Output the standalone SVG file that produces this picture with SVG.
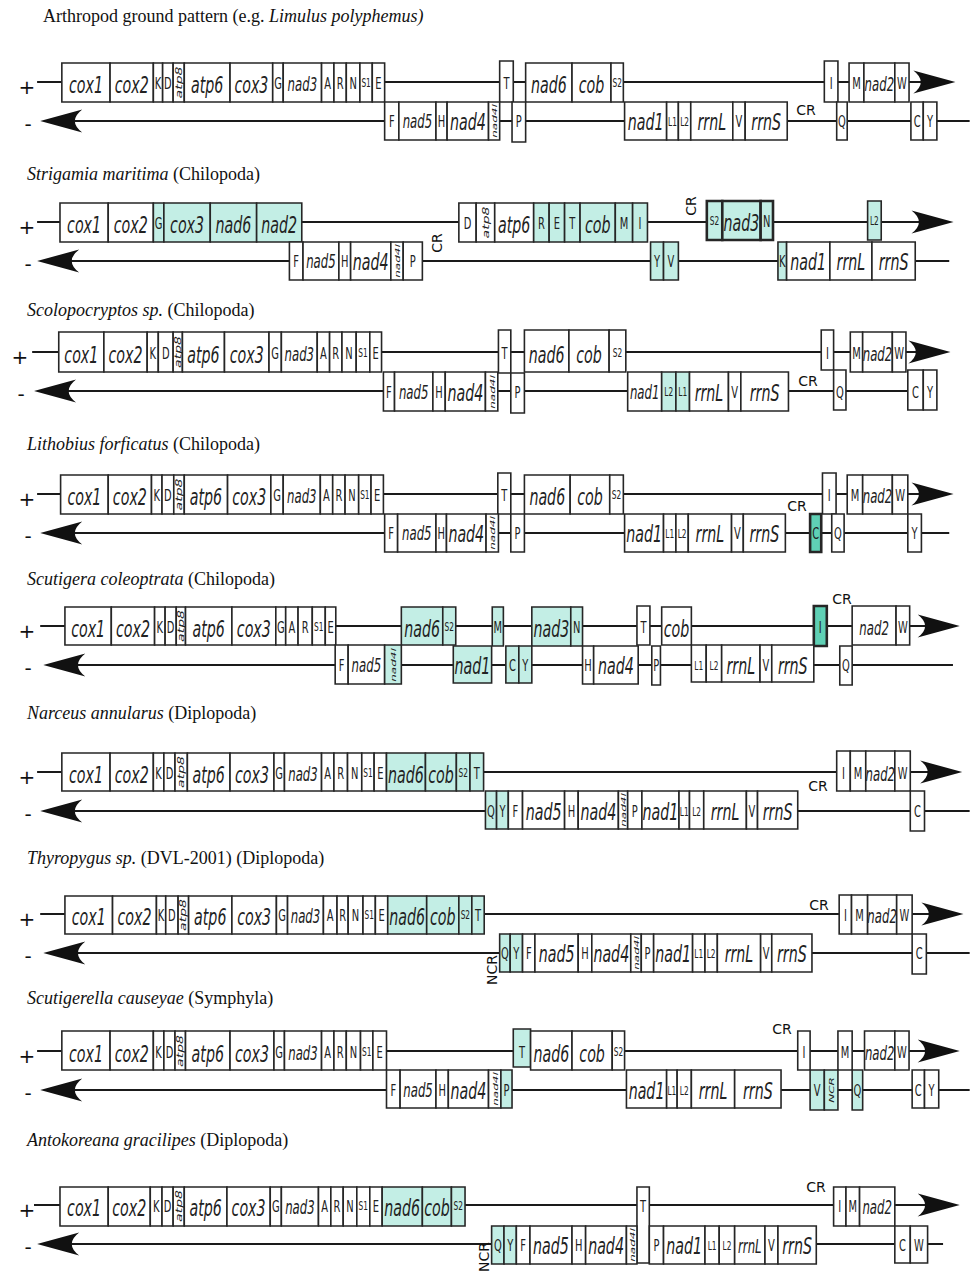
<svg xmlns="http://www.w3.org/2000/svg" xmlns:xlink="http://www.w3.org/1999/xlink" width="970" height="1276" viewBox="0 0 970 1276">
<defs>
<style>
.bx{fill:#fff;stroke:#262626;stroke-width:1.6px;vector-effect:non-scaling-stroke}
.tl{fill:#c3eee5}
.td{fill:#5fd0b5;stroke-width:2.6px}
.bd{stroke-width:2.6px}
.ln{fill:none;stroke:#1a1a1a;stroke-width:2px;vector-effect:non-scaling-stroke}
.ah{fill:#111}
.g,.gs,.t,.ts,.r,.rs{font-family:"DejaVu Sans","Noto Sans",sans-serif;fill:#222;text-anchor:middle}
.g{font-size:23px;font-style:italic}
.gs{font-size:19px;font-style:italic}
.t{font-size:16px}
.ts{font-size:12px}
.r{font-size:14px;font-style:italic}
.rs{font-size:12px;font-style:italic}
.ti{font-family:"Liberation Serif","Times New Roman",serif;font-size:18px;fill:#111}
.cr{font-family:"DejaVu Sans",sans-serif;font-size:14px;fill:#111;text-anchor:middle}
.sg{font-family:"DejaVu Sans",sans-serif;font-size:20px;fill:#111;text-anchor:middle}
</style>
<path id="arR" class="ah" d="M0,0 L-68,-11.5 Q-44,0 -68,11.5 Z"/>
<path id="arL" class="ah" d="M0,0 L68,-11.5 Q44,0 68,11.5 Z"/>
</defs>
<rect width="970" height="1276" fill="#fff"/>

<!-- Panel 1 -->
<g id="panel1" transform="translate(0,82)">
<text class="ti" x="43" y="-60">Arthropod ground pattern (e.g. <tspan font-style="italic">Limulus polyphemus)</tspan></text>
<text class="sg" x="27" y="12">+</text><text class="sg" x="28" y="49">-</text>
<g transform="scale(0.6184,1)">
<g id="p1-strands"><path class="ln" d="M60,0H1500M120,39H1568"/><use xlink:href="#arR" x="1545" y="0"/><use xlink:href="#arL" x="65" y="39"/></g>
<g id="p1-cox1"><rect class="bx" x="100" y="-19" width="78" height="39"/><text class="g" x="139" y="11">cox1</text></g>
<g id="p1-cox2"><rect class="bx" x="178" y="-19" width="70" height="39"/><text class="g" x="213" y="11">cox2</text></g>
<g id="p1-K"><rect class="bx" x="248" y="-19" width="15" height="39"/><text class="t" x="255.5" y="7">K</text></g>
<g id="p1-D"><rect class="bx" x="263" y="-19" width="17" height="39"/><text class="t" x="271.5" y="7">D</text></g>
<g id="p1-atp8"><rect class="bx" x="280" y="-19" width="18" height="39"/><text class="r" transform="translate(289,0.5) rotate(-90)" y="5">atp8</text></g>
<g id="p1-atp6"><rect class="bx" x="298" y="-19" width="74" height="39"/><text class="g" x="335" y="11">atp6</text></g>
<g id="p1-cox3"><rect class="bx" x="372" y="-19" width="69" height="39"/><text class="g" x="406.5" y="11">cox3</text></g>
<g id="p1-G"><rect class="bx" x="441" y="-19" width="17" height="39"/><text class="t" x="449.5" y="7">G</text></g>
<g id="p1-nad3"><rect class="bx" x="458" y="-19" width="62" height="39"/><text class="gs" x="489" y="9">nad3</text></g>
<g id="p1-A"><rect class="bx" x="520" y="-19" width="20" height="39"/><text class="t" x="530" y="7">A</text></g>
<g id="p1-R"><rect class="bx" x="540" y="-19" width="20" height="39"/><text class="t" x="550" y="7">R</text></g>
<g id="p1-N"><rect class="bx" x="560" y="-19" width="22" height="39"/><text class="t" x="571" y="7">N</text></g>
<g id="p1-S1"><rect class="bx" x="582" y="-19" width="20" height="39"/><text class="ts" x="592" y="5">S1</text></g>
<g id="p1-E"><rect class="bx" x="602" y="-19" width="20" height="39"/><text class="t" x="612" y="7">E</text></g>
<g id="p1-T"><rect class="bx" x="808" y="-21" width="22" height="41"/><text class="t" x="819" y="7">T</text></g>
<g id="p1-nad6"><rect class="bx" x="850" y="-19" width="75" height="39"/><text class="g" x="887.5" y="11">nad6</text></g>
<g id="p1-cob"><rect class="bx" x="925" y="-19" width="63" height="39"/><text class="g" x="956.5" y="11">cob</text></g>
<g id="p1-S2"><rect class="bx" x="988" y="-19" width="20" height="39"/><text class="ts" x="998" y="5">S2</text></g>
<g id="p1-I"><rect class="bx" x="1333" y="-21" width="22" height="41"/><text class="t" x="1344" y="7">I</text></g>
<g id="p1-M"><rect class="bx" x="1373" y="-19" width="24" height="39"/><text class="t" x="1385" y="7">M</text></g>
<g id="p1-nad2"><rect class="bx" x="1397" y="-19" width="50" height="39"/><text class="gs" x="1422" y="9">nad2</text></g>
<g id="p1-W"><rect class="bx" x="1447" y="-19" width="23" height="39"/><text class="t" x="1458.5" y="7">W</text></g>
<g id="p1-F"><rect class="bx" x="622" y="20" width="23" height="38"/><text class="t" x="633.5" y="45">F</text></g>
<g id="p1-nad5"><rect class="bx" x="645" y="20" width="60" height="38"/><text class="gs" x="675" y="46">nad5</text></g>
<g id="p1-H"><rect class="bx" x="705" y="20" width="18" height="38"/><text class="t" x="714" y="45">H</text></g>
<g id="p1-nad4"><rect class="bx" x="723" y="20" width="67" height="38"/><text class="g" x="756.5" y="48">nad4</text></g>
<g id="p1-nad4l"><rect class="bx" x="790" y="20" width="18" height="38"/><text class="rs" transform="translate(799,39) rotate(-90)" y="5">nad4l</text></g>
<g id="p1-P"><rect class="bx" x="828" y="20" width="22" height="40"/><text class="t" x="839" y="45">P</text></g>
<g id="p1-nad1"><rect class="bx" x="1010" y="20" width="68" height="38"/><text class="g" x="1044" y="48">nad1</text></g>
<g id="p1-L1"><rect class="bx" x="1078" y="20" width="19" height="38"/><text class="ts" x="1087.5" y="44">L1</text></g>
<g id="p1-L2"><rect class="bx" x="1097" y="20" width="20" height="38"/><text class="ts" x="1107" y="44">L2</text></g>
<g id="p1-rrnL"><rect class="bx" x="1117" y="20" width="68" height="38"/><text class="g" x="1151" y="48">rrnL</text></g>
<g id="p1-V"><rect class="bx" x="1185" y="20" width="20" height="38"/><text class="t" x="1195" y="45">V</text></g>
<g id="p1-rrnS"><rect class="bx" x="1205" y="20" width="68" height="38"/><text class="g" x="1239" y="48">rrnS</text></g>
<g id="p1-Q"><rect class="bx" x="1353" y="20" width="17" height="38"/><text class="t" x="1361.5" y="45">Q</text></g>
<g id="p1-C"><rect class="bx" x="1473" y="20" width="20" height="38"/><text class="t" x="1483" y="45">C</text></g>
<g id="p1-Y"><rect class="bx" x="1493" y="20" width="22" height="38"/><text class="t" x="1504" y="45">Y</text></g>
</g>
<text class="cr" x="806" y="33">CR</text>
</g>

<!-- Panel 2 -->
<g id="panel2" transform="translate(0,222)">
<text class="ti" x="27" y="-42"><tspan font-style="italic">Strigamia maritima</tspan> (Chilopoda)</text>
<text class="sg" x="27" y="12">+</text><text class="sg" x="28" y="49">-</text>
<g transform="scale(0.6184,1)">
<g id="p2-strands"><path class="ln" d="M60,0H1500M115,39H1535"/><use xlink:href="#arR" x="1542" y="0"/><use xlink:href="#arL" x="60" y="39"/></g>
<g id="p2-cox1"><rect class="bx" x="97" y="-19" width="78" height="39"/><text class="g" x="136" y="11">cox1</text></g>
<g id="p2-cox2"><rect class="bx" x="175" y="-19" width="73" height="39"/><text class="g" x="211.5" y="11">cox2</text></g>
<g id="p2-G"><rect class="bx tl" x="248" y="-19" width="17" height="39"/><text class="t" x="256.5" y="7">G</text></g>
<g id="p2-cox3"><rect class="bx tl" x="265" y="-19" width="75" height="39"/><text class="g" x="302.5" y="11">cox3</text></g>
<g id="p2-nad6"><rect class="bx tl" x="340" y="-19" width="75" height="39"/><text class="g" x="377.5" y="11">nad6</text></g>
<g id="p2-nad2"><rect class="bx tl" x="415" y="-19" width="73" height="39"/><text class="g" x="451.5" y="11">nad2</text></g>
<g id="p2-D"><rect class="bx" x="742" y="-19" width="28" height="39"/><text class="t" x="756" y="7">D</text></g>
<g id="p2-atp8"><rect class="bx" x="770" y="-19" width="30" height="39"/><text class="r" transform="translate(785,0.5) rotate(-90)" y="5">atp8</text></g>
<g id="p2-atp6"><rect class="bx" x="800" y="-19" width="63" height="39"/><text class="g" x="831.5" y="11">atp6</text></g>
<g id="p2-R"><rect class="bx tl" x="863" y="-19" width="25" height="39"/><text class="t" x="875.5" y="7">R</text></g>
<g id="p2-E"><rect class="bx tl" x="888" y="-19" width="25" height="39"/><text class="t" x="900.5" y="7">E</text></g>
<g id="p2-T"><rect class="bx tl" x="913" y="-19" width="25" height="39"/><text class="t" x="925.5" y="7">T</text></g>
<g id="p2-cob"><rect class="bx tl" x="938" y="-19" width="57" height="39"/><text class="g" x="966.5" y="11">cob</text></g>
<g id="p2-M"><rect class="bx tl" x="995" y="-19" width="28" height="39"/><text class="t" x="1009" y="7">M</text></g>
<g id="p2-I"><rect class="bx tl" x="1023" y="-19" width="24" height="39"/><text class="t" x="1035" y="7">I</text></g>
<g id="p2-S2"><rect class="bx tl bd" x="1143" y="-21" width="25" height="39"/><text class="ts" x="1155.5" y="3">S2</text></g>
<g id="p2-nad3"><rect class="bx tl bd" x="1168" y="-21" width="62" height="39"/><text class="g" x="1199" y="9">nad3</text></g>
<g id="p2-N"><rect class="bx tl bd" x="1230" y="-21" width="20" height="39"/><text class="t" x="1240" y="5">N</text></g>
<g id="p2-L2"><rect class="bx tl" x="1403" y="-21" width="22" height="39"/><text class="ts" x="1414" y="3">L2</text></g>
<g id="p2-F"><rect class="bx" x="468" y="20" width="22" height="38"/><text class="t" x="479" y="45">F</text></g>
<g id="p2-nad5"><rect class="bx" x="490" y="20" width="58" height="38"/><text class="gs" x="519" y="46">nad5</text></g>
<g id="p2-H"><rect class="bx" x="548" y="20" width="19" height="38"/><text class="t" x="557.5" y="45">H</text></g>
<g id="p2-nad4"><rect class="bx" x="567" y="20" width="65" height="38"/><text class="g" x="599.5" y="48">nad4</text></g>
<g id="p2-nad4l"><rect class="bx" x="632" y="20" width="20" height="38"/><text class="rs" transform="translate(642,39) rotate(-90)" y="5">nad4l</text></g>
<g id="p2-P"><rect class="bx" x="652" y="20" width="31" height="38"/><text class="t" x="667.5" y="45">P</text></g>
<g id="p2-Y"><rect class="bx tl" x="1052" y="20" width="21" height="38"/><text class="t" x="1062.5" y="45">Y</text></g>
<g id="p2-V"><rect class="bx tl" x="1073" y="20" width="24" height="38"/><text class="t" x="1085" y="45">V</text></g>
<g id="p2-K"><rect class="bx tl" x="1258" y="20" width="14" height="38"/><text class="t" x="1265" y="45">K</text></g>
<g id="p2-nad1"><rect class="bx" x="1272" y="20" width="70" height="38"/><text class="g" x="1307" y="48">nad1</text></g>
<g id="p2-rrnL"><rect class="bx" x="1342" y="20" width="68" height="38"/><text class="g" x="1376" y="48">rrnL</text></g>
<g id="p2-rrnS"><rect class="bx" x="1410" y="20" width="70" height="38"/><text class="g" x="1445" y="48">rrnS</text></g>
</g>
<text class="cr" transform="translate(691,-16) rotate(-90)" y="5">CR</text>
<text class="cr" transform="translate(437,21) rotate(-90)" y="5">CR</text>
</g>

<!-- Panel 3 -->
<g id="panel3" transform="translate(0,352)">
<text class="ti" x="27" y="-36"><tspan font-style="italic">Scolopocryptos sp.</tspan> (Chilopoda)</text>
<text class="sg" x="20" y="12">+</text><text class="sg" x="21" y="49">-</text>
<g transform="scale(0.6184,1)">
<g id="p3-strands"><path class="ln" d="M52,0H1490M110,39H1515"/><use xlink:href="#arR" x="1537" y="0"/><use xlink:href="#arL" x="55" y="39"/></g>
<g id="p3-cox1"><rect class="bx" x="95" y="-20" width="73" height="40"/><text class="g" x="131.5" y="11">cox1</text></g>
<g id="p3-cox2"><rect class="bx" x="168" y="-20" width="70" height="40"/><text class="g" x="203" y="11">cox2</text></g>
<g id="p3-K"><rect class="bx" x="238" y="-20" width="18" height="40"/><text class="t" x="247" y="7">K</text></g>
<g id="p3-D"><rect class="bx" x="256" y="-20" width="24" height="40"/><text class="t" x="268" y="7">D</text></g>
<g id="p3-atp8"><rect class="bx" x="280" y="-20" width="15" height="40"/><text class="r" transform="translate(287.5,0) rotate(-90)" y="5">atp8</text></g>
<g id="p3-atp6"><rect class="bx" x="295" y="-20" width="68" height="40"/><text class="g" x="329" y="11">atp6</text></g>
<g id="p3-cox3"><rect class="bx" x="363" y="-20" width="72" height="40"/><text class="g" x="399" y="11">cox3</text></g>
<g id="p3-G"><rect class="bx" x="435" y="-20" width="20" height="40"/><text class="t" x="445" y="7">G</text></g>
<g id="p3-nad3"><rect class="bx" x="455" y="-20" width="58" height="40"/><text class="gs" x="484" y="9">nad3</text></g>
<g id="p3-A"><rect class="bx" x="513" y="-20" width="20" height="40"/><text class="t" x="523" y="7">A</text></g>
<g id="p3-R"><rect class="bx" x="533" y="-20" width="20" height="40"/><text class="t" x="543" y="7">R</text></g>
<g id="p3-N"><rect class="bx" x="553" y="-20" width="23" height="40"/><text class="t" x="564.5" y="7">N</text></g>
<g id="p3-S1"><rect class="bx" x="576" y="-20" width="22" height="40"/><text class="ts" x="587" y="5">S1</text></g>
<g id="p3-E"><rect class="bx" x="598" y="-20" width="19" height="40"/><text class="t" x="607.5" y="7">E</text></g>
<g id="p3-T"><rect class="bx" x="806" y="-22" width="20" height="43"/><text class="t" x="816" y="7">T</text></g>
<g id="p3-nad6"><rect class="bx" x="848" y="-22" width="72" height="42"/><text class="g" x="884" y="11">nad6</text></g>
<g id="p3-cob"><rect class="bx" x="920" y="-22" width="65" height="42"/><text class="g" x="952.5" y="11">cob</text></g>
<g id="p3-S2"><rect class="bx" x="985" y="-22" width="27" height="42"/><text class="ts" x="998.5" y="5">S2</text></g>
<g id="p3-I"><rect class="bx" x="1328" y="-22" width="20" height="40"/><text class="t" x="1338" y="7">I</text></g>
<g id="p3-M"><rect class="bx" x="1375" y="-20" width="20" height="40"/><text class="t" x="1385" y="7">M</text></g>
<g id="p3-nad2"><rect class="bx" x="1395" y="-20" width="48" height="40"/><text class="gs" x="1419" y="9">nad2</text></g>
<g id="p3-W"><rect class="bx" x="1443" y="-20" width="22" height="40"/><text class="t" x="1454" y="7">W</text></g>
<g id="p3-F"><rect class="bx" x="620" y="20" width="18" height="39"/><text class="t" x="629" y="46">F</text></g>
<g id="p3-nad5"><rect class="bx" x="638" y="20" width="62" height="39"/><text class="gs" x="669" y="47">nad5</text></g>
<g id="p3-H"><rect class="bx" x="700" y="20" width="20" height="39"/><text class="t" x="710" y="46">H</text></g>
<g id="p3-nad4"><rect class="bx" x="720" y="20" width="65" height="39"/><text class="g" x="752.5" y="49">nad4</text></g>
<g id="p3-nad4l"><rect class="bx" x="785" y="20" width="20" height="39"/><text class="rs" transform="translate(795,40) rotate(-90)" y="5">nad4l</text></g>
<g id="p3-P"><rect class="bx" x="826" y="21" width="22" height="40"/><text class="t" x="837" y="46">P</text></g>
<g id="p3-nad1"><rect class="bx" x="1015" y="20" width="55" height="39"/><text class="gs" x="1042.5" y="47">nad1</text></g>
<g id="p3-L2"><rect class="bx tl" x="1070" y="20" width="23" height="39"/><text class="ts" x="1081.5" y="44">L2</text></g>
<g id="p3-L1"><rect class="bx tl" x="1093" y="20" width="22" height="39"/><text class="ts" x="1104" y="44">L1</text></g>
<g id="p3-rrnL"><rect class="bx" x="1115" y="20" width="63" height="39"/><text class="g" x="1146.5" y="49">rrnL</text></g>
<g id="p3-V"><rect class="bx" x="1178" y="20" width="20" height="39"/><text class="t" x="1188" y="46">V</text></g>
<g id="p3-rrnS"><rect class="bx" x="1198" y="20" width="77" height="39"/><text class="g" x="1236.5" y="49">rrnS</text></g>
<g id="p3-Q"><rect class="bx" x="1348" y="18" width="20" height="40"/><text class="t" x="1358" y="46">Q</text></g>
<g id="p3-C"><rect class="bx" x="1468" y="18" width="25" height="40"/><text class="t" x="1480.5" y="46">C</text></g>
<g id="p3-Y"><rect class="bx" x="1493" y="18" width="22" height="40"/><text class="t" x="1504" y="46">Y</text></g>
</g>
<text class="cr" x="808" y="34">CR</text>
</g>

<!-- Panel 4 -->
<g id="panel4" transform="translate(0,494)">
<text class="ti" x="27" y="-44"><tspan font-style="italic">Lithobius forficatus</tspan> (Chilopoda)</text>
<text class="sg" x="27" y="12">+</text><text class="sg" x="28" y="49">-</text>
<g transform="scale(0.6184,1)">
<g id="p4-strands"><path class="ln" d="M60,0H1500M120,39H1535"/><use xlink:href="#arR" x="1542" y="0"/><use xlink:href="#arL" x="65" y="39"/></g>
<g id="p4-cox1"><rect class="bx" x="98" y="-19" width="77" height="39"/><text class="g" x="136.5" y="11">cox1</text></g>
<g id="p4-cox2"><rect class="bx" x="175" y="-19" width="70" height="39"/><text class="g" x="210" y="11">cox2</text></g>
<g id="p4-K"><rect class="bx" x="245" y="-19" width="17" height="39"/><text class="t" x="253.5" y="7">K</text></g>
<g id="p4-D"><rect class="bx" x="262" y="-19" width="19" height="39"/><text class="t" x="271.5" y="7">D</text></g>
<g id="p4-atp8"><rect class="bx" x="281" y="-19" width="17" height="39"/><text class="r" transform="translate(289.5,0.5) rotate(-90)" y="5">atp8</text></g>
<g id="p4-atp6"><rect class="bx" x="298" y="-19" width="70" height="39"/><text class="g" x="333" y="11">atp6</text></g>
<g id="p4-cox3"><rect class="bx" x="368" y="-19" width="70" height="39"/><text class="g" x="403" y="11">cox3</text></g>
<g id="p4-G"><rect class="bx" x="438" y="-19" width="20" height="39"/><text class="t" x="448" y="7">G</text></g>
<g id="p4-nad3"><rect class="bx" x="458" y="-19" width="60" height="39"/><text class="gs" x="488" y="9">nad3</text></g>
<g id="p4-A"><rect class="bx" x="518" y="-19" width="20" height="39"/><text class="t" x="528" y="7">A</text></g>
<g id="p4-R"><rect class="bx" x="538" y="-19" width="20" height="39"/><text class="t" x="548" y="7">R</text></g>
<g id="p4-N"><rect class="bx" x="558" y="-19" width="22" height="39"/><text class="t" x="569" y="7">N</text></g>
<g id="p4-S1"><rect class="bx" x="580" y="-19" width="20" height="39"/><text class="ts" x="590" y="5">S1</text></g>
<g id="p4-E"><rect class="bx" x="600" y="-19" width="20" height="39"/><text class="t" x="610" y="7">E</text></g>
<g id="p4-T"><rect class="bx" x="805" y="-21" width="21" height="41"/><text class="t" x="815.5" y="7">T</text></g>
<g id="p4-nad6"><rect class="bx" x="848" y="-19" width="74" height="39"/><text class="g" x="885" y="11">nad6</text></g>
<g id="p4-cob"><rect class="bx" x="922" y="-19" width="64" height="39"/><text class="g" x="954" y="11">cob</text></g>
<g id="p4-S2"><rect class="bx" x="986" y="-19" width="22" height="39"/><text class="ts" x="997" y="5">S2</text></g>
<g id="p4-I"><rect class="bx" x="1330" y="-21" width="22" height="41"/><text class="t" x="1341" y="7">I</text></g>
<g id="p4-M"><rect class="bx" x="1370" y="-19" width="25" height="39"/><text class="t" x="1382.5" y="7">M</text></g>
<g id="p4-nad2"><rect class="bx" x="1395" y="-19" width="48" height="39"/><text class="gs" x="1419" y="9">nad2</text></g>
<g id="p4-W"><rect class="bx" x="1443" y="-19" width="25" height="39"/><text class="t" x="1455.5" y="7">W</text></g>
<g id="p4-F"><rect class="bx" x="622" y="20" width="21" height="38"/><text class="t" x="632.5" y="45">F</text></g>
<g id="p4-nad5"><rect class="bx" x="643" y="20" width="62" height="38"/><text class="gs" x="674" y="46">nad5</text></g>
<g id="p4-H"><rect class="bx" x="705" y="20" width="17" height="38"/><text class="t" x="713.5" y="45">H</text></g>
<g id="p4-nad4"><rect class="bx" x="722" y="20" width="64" height="38"/><text class="g" x="754" y="48">nad4</text></g>
<g id="p4-nad4l"><rect class="bx" x="786" y="20" width="20" height="38"/><text class="rs" transform="translate(796,39) rotate(-90)" y="5">nad4l</text></g>
<g id="p4-P"><rect class="bx" x="826" y="20" width="22" height="38"/><text class="t" x="837" y="45">P</text></g>
<g id="p4-nad1"><rect class="bx" x="1010" y="20" width="63" height="38"/><text class="g" x="1041.5" y="48">nad1</text></g>
<g id="p4-L1"><rect class="bx" x="1073" y="20" width="20" height="38"/><text class="ts" x="1083" y="44">L1</text></g>
<g id="p4-L2"><rect class="bx" x="1093" y="20" width="20" height="38"/><text class="ts" x="1103" y="44">L2</text></g>
<g id="p4-rrnL"><rect class="bx" x="1113" y="20" width="70" height="38"/><text class="g" x="1148" y="48">rrnL</text></g>
<g id="p4-V"><rect class="bx" x="1183" y="20" width="19" height="38"/><text class="t" x="1192.5" y="45">V</text></g>
<g id="p4-rrnS"><rect class="bx" x="1202" y="20" width="68" height="38"/><text class="g" x="1236" y="48">rrnS</text></g>
<g id="p4-C"><rect class="bx td" x="1310" y="20" width="18" height="38"/><text class="t" x="1319" y="45">C</text></g>
<g id="p4-Q"><rect class="bx" x="1345" y="20" width="20" height="38"/><text class="t" x="1355" y="45">Q</text></g>
<g id="p4-Y"><rect class="bx" x="1468" y="20" width="22" height="38"/><text class="t" x="1479" y="45">Y</text></g>
</g>
<text class="cr" x="797" y="17">CR</text>
</g>

<!-- Panel 5 -->
<g id="panel5" transform="translate(0,626)">
<text class="ti" x="27" y="-41"><tspan font-style="italic">Scutigera coleoptrata</tspan> (Chilopoda)</text>
<text class="sg" x="27" y="12">+</text><text class="sg" x="28" y="49">-</text>
<g transform="scale(0.6184,1)">
<g id="p5-strands"><path class="ln" d="M65,0H1505M125,39H1541"/><use xlink:href="#arR" x="1552" y="0"/><use xlink:href="#arL" x="70" y="39"/></g>
<g id="p5-cox1"><rect class="bx" x="105" y="-19" width="75" height="38"/><text class="g" x="142.5" y="11">cox1</text></g>
<g id="p5-cox2"><rect class="bx" x="180" y="-19" width="70" height="38"/><text class="g" x="215" y="11">cox2</text></g>
<g id="p5-K"><rect class="bx" x="250" y="-19" width="17" height="38"/><text class="t" x="258.5" y="7">K</text></g>
<g id="p5-D"><rect class="bx" x="267" y="-19" width="18" height="38"/><text class="t" x="276" y="7">D</text></g>
<g id="p5-atp8"><rect class="bx" x="285" y="-19" width="15" height="38"/><text class="r" transform="translate(292.5,0) rotate(-90)" y="5">atp8</text></g>
<g id="p5-atp6"><rect class="bx" x="300" y="-19" width="75" height="38"/><text class="g" x="337.5" y="11">atp6</text></g>
<g id="p5-cox3"><rect class="bx" x="375" y="-19" width="71" height="38"/><text class="g" x="410.5" y="11">cox3</text></g>
<g id="p5-G"><rect class="bx" x="446" y="-19" width="16" height="38"/><text class="t" x="454" y="7">G</text></g>
<g id="p5-A"><rect class="bx" x="462" y="-19" width="20" height="38"/><text class="t" x="472" y="7">A</text></g>
<g id="p5-R"><rect class="bx" x="482" y="-19" width="23" height="38"/><text class="t" x="493.5" y="7">R</text></g>
<g id="p5-S1"><rect class="bx" x="505" y="-19" width="21" height="38"/><text class="ts" x="515.5" y="5">S1</text></g>
<g id="p5-E"><rect class="bx" x="526" y="-19" width="17" height="38"/><text class="t" x="534.5" y="7">E</text></g>
<g id="p5-nad6"><rect class="bx tl" x="649" y="-19" width="67" height="38"/><text class="g" x="682.5" y="11">nad6</text></g>
<g id="p5-S2"><rect class="bx tl" x="716" y="-19" width="21" height="38"/><text class="ts" x="726.5" y="5">S2</text></g>
<g id="p5-M"><rect class="bx tl" x="796" y="-19" width="18" height="39"/><text class="t" x="805" y="7">M</text></g>
<g id="p5-nad3"><rect class="bx tl" x="860" y="-19" width="63" height="39"/><text class="g" x="891.5" y="11">nad3</text></g>
<g id="p5-N"><rect class="bx tl" x="923" y="-19" width="19" height="39"/><text class="t" x="932.5" y="7">N</text></g>
<g id="p5-T"><rect class="bx" x="1030" y="-20" width="21" height="39"/><text class="t" x="1040.5" y="7">T</text></g>
<g id="p5-cob"><rect class="bx" x="1070" y="-19" width="48" height="38"/><text class="g" x="1094" y="11">cob</text></g>
<g id="p5-I"><rect class="bx td" x="1316" y="-20" width="21" height="40"/><text class="t" x="1326.5" y="7">I</text></g>
<g id="p5-nad2"><rect class="bx" x="1378" y="-20" width="71" height="39"/><text class="gs" x="1413.5" y="9">nad2</text></g>
<g id="p5-W"><rect class="bx" x="1449" y="-20" width="22" height="39"/><text class="t" x="1460" y="7">W</text></g>
<g id="p5-F"><rect class="bx" x="542" y="19" width="21" height="39"/><text class="t" x="552.5" y="45">F</text></g>
<g id="p5-nad5"><rect class="bx" x="563" y="19" width="59" height="39"/><text class="gs" x="592.5" y="46">nad5</text></g>
<g id="p5-nad4l"><rect class="bx tl" x="622" y="19" width="27" height="39"/><text class="rs" transform="translate(635.5,39) rotate(-90)" y="5">nad4l</text></g>
<g id="p5-nad1"><rect class="bx tl" x="733" y="20" width="62" height="37"/><text class="g" x="764" y="48">nad1</text></g>
<g id="p5-C"><rect class="bx tl" x="818" y="20" width="21" height="37"/><text class="t" x="828.5" y="45">C</text></g>
<g id="p5-Y"><rect class="bx tl" x="839" y="20" width="21" height="37"/><text class="t" x="849.5" y="45">Y</text></g>
<g id="p5-H"><rect class="bx" x="942" y="20" width="18" height="38"/><text class="t" x="951" y="45">H</text></g>
<g id="p5-nad4"><rect class="bx" x="960" y="20" width="72" height="38"/><text class="g" x="996" y="48">nad4</text></g>
<g id="p5-P"><rect class="bx" x="1054" y="20" width="14" height="39"/><text class="t" x="1061" y="45">P</text></g>
<g id="p5-L1"><rect class="bx" x="1118" y="19" width="24" height="37"/><text class="ts" x="1130" y="44">L1</text></g>
<g id="p5-L2"><rect class="bx" x="1142" y="19" width="25" height="37"/><text class="ts" x="1154.5" y="44">L2</text></g>
<g id="p5-rrnL"><rect class="bx" x="1167" y="19" width="62" height="37"/><text class="g" x="1198" y="48">rrnL</text></g>
<g id="p5-V"><rect class="bx" x="1229" y="19" width="19" height="37"/><text class="t" x="1238.5" y="45">V</text></g>
<g id="p5-rrnS"><rect class="bx" x="1248" y="19" width="68" height="37"/><text class="g" x="1282" y="48">rrnS</text></g>
<g id="p5-Q"><rect class="bx" x="1358" y="20" width="20" height="39"/><text class="t" x="1368" y="45">Q</text></g>
</g>
<text class="cr" x="842" y="-22">CR</text>
</g>

<!-- Panel 6 -->
<g id="panel6" transform="translate(0,772)">
<text class="ti" x="27" y="-53"><tspan font-style="italic">Narceus annularus</tspan> (Diplopoda)</text>
<text class="sg" x="27" y="12">+</text><text class="sg" x="28" y="49">-</text>
<g transform="scale(0.6184,1)">
<g id="p6-strands"><path class="ln" d="M60,0H1505M120,39H1568"/><use xlink:href="#arR" x="1556" y="0"/><use xlink:href="#arL" x="65" y="39"/></g>
<g id="p6-cox1"><rect class="bx" x="100" y="-19" width="78" height="38"/><text class="g" x="139" y="11">cox1</text></g>
<g id="p6-cox2"><rect class="bx" x="178" y="-19" width="70" height="38"/><text class="g" x="213" y="11">cox2</text></g>
<g id="p6-K"><rect class="bx" x="248" y="-19" width="17" height="38"/><text class="t" x="256.5" y="7">K</text></g>
<g id="p6-D"><rect class="bx" x="265" y="-19" width="18" height="38"/><text class="t" x="274" y="7">D</text></g>
<g id="p6-atp8"><rect class="bx" x="283" y="-19" width="20" height="38"/><text class="r" transform="translate(293,0) rotate(-90)" y="5">atp8</text></g>
<g id="p6-atp6"><rect class="bx" x="303" y="-19" width="69" height="38"/><text class="g" x="337.5" y="11">atp6</text></g>
<g id="p6-cox3"><rect class="bx" x="372" y="-19" width="71" height="38"/><text class="g" x="407.5" y="11">cox3</text></g>
<g id="p6-G"><rect class="bx" x="443" y="-19" width="17" height="38"/><text class="t" x="451.5" y="7">G</text></g>
<g id="p6-nad3"><rect class="bx" x="460" y="-19" width="60" height="38"/><text class="gs" x="490" y="9">nad3</text></g>
<g id="p6-A"><rect class="bx" x="520" y="-19" width="20" height="38"/><text class="t" x="530" y="7">A</text></g>
<g id="p6-R"><rect class="bx" x="540" y="-19" width="22" height="38"/><text class="t" x="551" y="7">R</text></g>
<g id="p6-N"><rect class="bx" x="562" y="-19" width="23" height="38"/><text class="t" x="573.5" y="7">N</text></g>
<g id="p6-S1"><rect class="bx" x="585" y="-19" width="20" height="38"/><text class="ts" x="595" y="5">S1</text></g>
<g id="p6-E"><rect class="bx" x="605" y="-19" width="20" height="38"/><text class="t" x="615" y="7">E</text></g>
<g id="p6-nad6"><rect class="bx tl" x="625" y="-19" width="63" height="38"/><text class="g" x="656.5" y="11">nad6</text></g>
<g id="p6-cob"><rect class="bx tl" x="688" y="-19" width="50" height="38"/><text class="g" x="713" y="11">cob</text></g>
<g id="p6-S2"><rect class="bx tl" x="738" y="-19" width="22" height="38"/><text class="ts" x="749" y="5">S2</text></g>
<g id="p6-T"><rect class="bx tl" x="760" y="-19" width="22" height="38"/><text class="t" x="771" y="7">T</text></g>
<g id="p6-I"><rect class="bx" x="1353" y="-21" width="22" height="40"/><text class="t" x="1364" y="7">I</text></g>
<g id="p6-M"><rect class="bx" x="1375" y="-21" width="25" height="40"/><text class="t" x="1387.5" y="7">M</text></g>
<g id="p6-nad2"><rect class="bx" x="1400" y="-21" width="47" height="40"/><text class="gs" x="1423.5" y="9">nad2</text></g>
<g id="p6-W"><rect class="bx" x="1447" y="-21" width="25" height="40"/><text class="t" x="1459.5" y="7">W</text></g>
<g id="p6-Q"><rect class="bx tl" x="785" y="19" width="18" height="38"/><text class="t" x="794" y="45">Q</text></g>
<g id="p6-Y"><rect class="bx tl" x="803" y="19" width="19" height="38"/><text class="t" x="812.5" y="45">Y</text></g>
<g id="p6-F"><rect class="bx" x="822" y="19" width="23" height="38"/><text class="t" x="833.5" y="45">F</text></g>
<g id="p6-nad5"><rect class="bx" x="845" y="19" width="68" height="38"/><text class="g" x="879" y="48">nad5</text></g>
<g id="p6-H"><rect class="bx" x="913" y="19" width="22" height="38"/><text class="t" x="924" y="45">H</text></g>
<g id="p6-nad4"><rect class="bx" x="935" y="19" width="65" height="38"/><text class="g" x="967.5" y="48">nad4</text></g>
<g id="p6-nad4l"><rect class="bx" x="1000" y="19" width="15" height="38"/><text class="rs" transform="translate(1007.5,38) rotate(-90)" y="5">nad4l</text></g>
<g id="p6-P"><rect class="bx" x="1015" y="19" width="23" height="38"/><text class="t" x="1026.5" y="45">P</text></g>
<g id="p6-nad1"><rect class="bx" x="1038" y="19" width="60" height="38"/><text class="g" x="1068" y="48">nad1</text></g>
<g id="p6-L1"><rect class="bx" x="1098" y="19" width="17" height="38"/><text class="ts" x="1106.5" y="44">L1</text></g>
<g id="p6-L2"><rect class="bx" x="1115" y="19" width="23" height="38"/><text class="ts" x="1126.5" y="44">L2</text></g>
<g id="p6-rrnL"><rect class="bx" x="1138" y="19" width="69" height="38"/><text class="g" x="1172.5" y="48">rrnL</text></g>
<g id="p6-V"><rect class="bx" x="1207" y="19" width="18" height="38"/><text class="t" x="1216" y="45">V</text></g>
<g id="p6-rrnS"><rect class="bx" x="1225" y="19" width="65" height="38"/><text class="g" x="1257.5" y="48">rrnS</text></g>
<g id="p6-C"><rect class="bx" x="1472" y="19" width="23" height="40"/><text class="t" x="1483.5" y="45">C</text></g>
</g>
<text class="cr" x="818" y="19">CR</text>
</g>

<!-- Panel 7 -->
<g id="panel7" transform="translate(0,914)">
<text class="ti" x="27" y="-50"><tspan font-style="italic">Thyropygus sp.</tspan> (DVL-2001) (Diplopoda)</text>
<text class="sg" x="27" y="12">+</text><text class="sg" x="28" y="49">-</text>
<g transform="scale(0.6184,1)">
<g id="p7-strands"><path class="ln" d="M65,0H1505M125,39H1568"/><use xlink:href="#arR" x="1558" y="0"/><use xlink:href="#arL" x="70" y="39"/></g>
<g id="p7-cox1"><rect class="bx" x="105" y="-18" width="77" height="38"/><text class="g" x="143.5" y="11">cox1</text></g>
<g id="p7-cox2"><rect class="bx" x="182" y="-18" width="71" height="38"/><text class="g" x="217.5" y="11">cox2</text></g>
<g id="p7-K"><rect class="bx" x="253" y="-18" width="15" height="38"/><text class="t" x="260.5" y="7">K</text></g>
<g id="p7-D"><rect class="bx" x="268" y="-18" width="20" height="38"/><text class="t" x="278" y="7">D</text></g>
<g id="p7-atp8"><rect class="bx" x="288" y="-18" width="17" height="38"/><text class="r" transform="translate(296.5,1) rotate(-90)" y="5">atp8</text></g>
<g id="p7-atp6"><rect class="bx" x="305" y="-18" width="70" height="38"/><text class="g" x="340" y="11">atp6</text></g>
<g id="p7-cox3"><rect class="bx" x="375" y="-18" width="72" height="38"/><text class="g" x="411" y="11">cox3</text></g>
<g id="p7-G"><rect class="bx" x="447" y="-18" width="18" height="38"/><text class="t" x="456" y="7">G</text></g>
<g id="p7-nad3"><rect class="bx" x="465" y="-18" width="58" height="38"/><text class="gs" x="494" y="9">nad3</text></g>
<g id="p7-A"><rect class="bx" x="523" y="-18" width="22" height="38"/><text class="t" x="534" y="7">A</text></g>
<g id="p7-R"><rect class="bx" x="545" y="-18" width="18" height="38"/><text class="t" x="554" y="7">R</text></g>
<g id="p7-N"><rect class="bx" x="563" y="-18" width="24" height="38"/><text class="t" x="575" y="7">N</text></g>
<g id="p7-S1"><rect class="bx" x="587" y="-18" width="20" height="38"/><text class="ts" x="597" y="5">S1</text></g>
<g id="p7-E"><rect class="bx" x="607" y="-18" width="20" height="38"/><text class="t" x="617" y="7">E</text></g>
<g id="p7-nad6"><rect class="bx tl" x="627" y="-18" width="63" height="38"/><text class="g" x="658.5" y="11">nad6</text></g>
<g id="p7-cob"><rect class="bx tl" x="690" y="-18" width="52" height="38"/><text class="g" x="716" y="11">cob</text></g>
<g id="p7-S2"><rect class="bx tl" x="742" y="-18" width="21" height="38"/><text class="ts" x="752.5" y="5">S2</text></g>
<g id="p7-T"><rect class="bx tl" x="763" y="-18" width="20" height="38"/><text class="t" x="773" y="7">T</text></g>
<g id="p7-I"><rect class="bx" x="1357" y="-19" width="20" height="39"/><text class="t" x="1367" y="7">I</text></g>
<g id="p7-M"><rect class="bx" x="1377" y="-19" width="26" height="39"/><text class="t" x="1390" y="7">M</text></g>
<g id="p7-nad2"><rect class="bx" x="1403" y="-19" width="47" height="39"/><text class="gs" x="1426.5" y="9">nad2</text></g>
<g id="p7-W"><rect class="bx" x="1450" y="-19" width="25" height="39"/><text class="t" x="1462.5" y="7">W</text></g>
<g id="p7-Q"><rect class="bx tl" x="808" y="20" width="17" height="38"/><text class="t" x="816.5" y="45">Q</text></g>
<g id="p7-Y"><rect class="bx tl" x="825" y="20" width="20" height="38"/><text class="t" x="835" y="45">Y</text></g>
<g id="p7-F"><rect class="bx" x="845" y="20" width="20" height="38"/><text class="t" x="855" y="45">F</text></g>
<g id="p7-nad5"><rect class="bx" x="865" y="20" width="70" height="38"/><text class="g" x="900" y="48">nad5</text></g>
<g id="p7-H"><rect class="bx" x="935" y="20" width="22" height="38"/><text class="t" x="946" y="45">H</text></g>
<g id="p7-nad4"><rect class="bx" x="957" y="20" width="63" height="38"/><text class="g" x="988.5" y="48">nad4</text></g>
<g id="p7-nad4l"><rect class="bx" x="1020" y="20" width="17" height="38"/><text class="rs" transform="translate(1028.5,39) rotate(-90)" y="5">nad4l</text></g>
<g id="p7-P"><rect class="bx" x="1037" y="20" width="20" height="38"/><text class="t" x="1047" y="45">P</text></g>
<g id="p7-nad1"><rect class="bx" x="1057" y="20" width="63" height="38"/><text class="g" x="1088.5" y="48">nad1</text></g>
<g id="p7-L1"><rect class="bx" x="1120" y="20" width="20" height="38"/><text class="ts" x="1130" y="44">L1</text></g>
<g id="p7-L2"><rect class="bx" x="1140" y="20" width="20" height="38"/><text class="ts" x="1150" y="44">L2</text></g>
<g id="p7-rrnL"><rect class="bx" x="1160" y="20" width="70" height="38"/><text class="g" x="1195" y="48">rrnL</text></g>
<g id="p7-V"><rect class="bx" x="1230" y="20" width="18" height="38"/><text class="t" x="1239" y="45">V</text></g>
<g id="p7-rrnS"><rect class="bx" x="1248" y="20" width="65" height="38"/><text class="g" x="1280.5" y="48">rrnS</text></g>
<g id="p7-C"><rect class="bx" x="1475" y="20" width="23" height="40"/><text class="t" x="1486.5" y="45">C</text></g>
</g>
<text class="cr" x="819" y="-4">CR</text>
<text class="cr" transform="translate(492,56) rotate(-90)" y="5">NCR</text>
</g>

<!-- Panel 8 -->
<g id="panel8" transform="translate(0,1051)">
<text class="ti" x="27" y="-47"><tspan font-style="italic">Scutigerella causeyae</tspan> (Symphyla)</text>
<text class="sg" x="27" y="12">+</text><text class="sg" x="28" y="49">-</text>
<g transform="scale(0.6184,1)">
<g id="p8-strands"><path class="ln" d="M60,0H1500M120,39H1568"/><use xlink:href="#arR" x="1552" y="0"/><use xlink:href="#arL" x="65" y="39"/></g>
<g id="p8-cox1"><rect class="bx" x="100" y="-20" width="78" height="39"/><text class="g" x="139" y="11">cox1</text></g>
<g id="p8-cox2"><rect class="bx" x="178" y="-20" width="70" height="39"/><text class="g" x="213" y="11">cox2</text></g>
<g id="p8-K"><rect class="bx" x="248" y="-20" width="17" height="39"/><text class="t" x="256.5" y="7">K</text></g>
<g id="p8-D"><rect class="bx" x="265" y="-20" width="18" height="39"/><text class="t" x="274" y="7">D</text></g>
<g id="p8-atp8"><rect class="bx" x="283" y="-20" width="17" height="39"/><text class="r" transform="translate(291.5,0) rotate(-90)" y="5">atp8</text></g>
<g id="p8-atp6"><rect class="bx" x="300" y="-20" width="72" height="39"/><text class="g" x="336" y="11">atp6</text></g>
<g id="p8-cox3"><rect class="bx" x="372" y="-20" width="71" height="39"/><text class="g" x="407.5" y="11">cox3</text></g>
<g id="p8-G"><rect class="bx" x="443" y="-20" width="17" height="39"/><text class="t" x="451.5" y="7">G</text></g>
<g id="p8-nad3"><rect class="bx" x="460" y="-20" width="60" height="39"/><text class="gs" x="490" y="9">nad3</text></g>
<g id="p8-A"><rect class="bx" x="520" y="-20" width="20" height="39"/><text class="t" x="530" y="7">A</text></g>
<g id="p8-R"><rect class="bx" x="540" y="-20" width="20" height="39"/><text class="t" x="550" y="7">R</text></g>
<g id="p8-N"><rect class="bx" x="560" y="-20" width="23" height="39"/><text class="t" x="571.5" y="7">N</text></g>
<g id="p8-S1"><rect class="bx" x="583" y="-20" width="20" height="39"/><text class="ts" x="593" y="5">S1</text></g>
<g id="p8-E"><rect class="bx" x="603" y="-20" width="22" height="39"/><text class="t" x="614" y="7">E</text></g>
<g id="p8-T"><rect class="bx tl" x="830" y="-22" width="28" height="38"/><text class="t" x="844" y="7">T</text></g>
<g id="p8-nad6"><rect class="bx" x="858" y="-20" width="67" height="39"/><text class="g" x="891.5" y="11">nad6</text></g>
<g id="p8-cob"><rect class="bx" x="925" y="-20" width="65" height="39"/><text class="g" x="957.5" y="11">cob</text></g>
<g id="p8-S2"><rect class="bx" x="990" y="-20" width="20" height="39"/><text class="ts" x="1000" y="5">S2</text></g>
<g id="p8-I"><rect class="bx" x="1290" y="-20" width="20" height="39"/><text class="t" x="1300" y="7">I</text></g>
<g id="p8-M"><rect class="bx" x="1355" y="-20" width="23" height="39"/><text class="t" x="1366.5" y="7">M</text></g>
<g id="p8-nad2"><rect class="bx" x="1398" y="-20" width="49" height="39"/><text class="gs" x="1422.5" y="9">nad2</text></g>
<g id="p8-W"><rect class="bx" x="1447" y="-20" width="23" height="39"/><text class="t" x="1458.5" y="7">W</text></g>
<g id="p8-F"><rect class="bx" x="625" y="19" width="22" height="38"/><text class="t" x="636" y="45">F</text></g>
<g id="p8-nad5"><rect class="bx" x="647" y="19" width="58" height="38"/><text class="gs" x="676" y="46">nad5</text></g>
<g id="p8-H"><rect class="bx" x="705" y="19" width="20" height="38"/><text class="t" x="715" y="45">H</text></g>
<g id="p8-nad4"><rect class="bx" x="725" y="19" width="65" height="38"/><text class="g" x="757.5" y="48">nad4</text></g>
<g id="p8-nad4l"><rect class="bx" x="790" y="19" width="20" height="38"/><text class="rs" transform="translate(800,38) rotate(-90)" y="5">nad4l</text></g>
<g id="p8-P"><rect class="bx tl" x="810" y="19" width="18" height="38"/><text class="t" x="819" y="45">P</text></g>
<g id="p8-nad1"><rect class="bx" x="1013" y="19" width="65" height="38"/><text class="g" x="1045.5" y="48">nad1</text></g>
<g id="p8-L1"><rect class="bx" x="1078" y="19" width="17" height="38"/><text class="ts" x="1086.5" y="44">L1</text></g>
<g id="p8-L2"><rect class="bx" x="1095" y="19" width="23" height="38"/><text class="ts" x="1106.5" y="44">L2</text></g>
<g id="p8-rrnL"><rect class="bx" x="1118" y="19" width="70" height="38"/><text class="g" x="1153" y="48">rrnL</text></g>
<g id="p8-rrnS"><rect class="bx" x="1188" y="19" width="75" height="38"/><text class="g" x="1225.5" y="48">rrnS</text></g>
<g id="p8-V"><rect class="bx tl" x="1310" y="19" width="23" height="40"/><text class="t" x="1321.5" y="45">V</text></g>
<g id="p8-NCR"><rect class="bx tl" x="1333" y="19" width="22" height="40"/><text class="rs" transform="translate(1344,39) rotate(-90)" y="5" font-style="normal">NCR</text></g>
<g id="p8-Q"><rect class="bx tl" x="1378" y="19" width="17" height="40"/><text class="t" x="1386.5" y="45">Q</text></g>
<g id="p8-C"><rect class="bx" x="1475" y="19" width="20" height="38"/><text class="t" x="1485" y="45">C</text></g>
<g id="p8-Y"><rect class="bx" x="1495" y="19" width="23" height="38"/><text class="t" x="1506.5" y="45">Y</text></g>
</g>
<text class="cr" x="782" y="-17">CR</text>
</g>

<!-- Panel 9 -->
<g id="panel9" transform="translate(0,1205)">
<text class="ti" x="27" y="-59"><tspan font-style="italic">Antokoreana gracilipes</tspan> (Diplopoda)</text>
<text class="sg" x="27" y="12">+</text><text class="sg" x="28" y="49">-</text>
<g transform="scale(0.6184,1)">
<g id="p9-strands"><path class="ln" d="M55,0H1500M115,39H1525"/><use xlink:href="#arR" x="1552" y="0"/><use xlink:href="#arL" x="60" y="39"/></g>
<g id="p9-cox1"><rect class="bx" x="97" y="-18" width="78" height="39"/><text class="g" x="136" y="11">cox1</text></g>
<g id="p9-cox2"><rect class="bx" x="175" y="-18" width="68" height="39"/><text class="g" x="209" y="11">cox2</text></g>
<g id="p9-K"><rect class="bx" x="243" y="-18" width="19" height="39"/><text class="t" x="252.5" y="7">K</text></g>
<g id="p9-D"><rect class="bx" x="262" y="-18" width="18" height="39"/><text class="t" x="271" y="7">D</text></g>
<g id="p9-atp8"><rect class="bx" x="280" y="-18" width="18" height="39"/><text class="r" transform="translate(289,1) rotate(-90)" y="5">atp8</text></g>
<g id="p9-atp6"><rect class="bx" x="298" y="-18" width="69" height="39"/><text class="g" x="332.5" y="11">atp6</text></g>
<g id="p9-cox3"><rect class="bx" x="367" y="-18" width="70" height="39"/><text class="g" x="402" y="11">cox3</text></g>
<g id="p9-G"><rect class="bx" x="437" y="-18" width="18" height="39"/><text class="t" x="446" y="7">G</text></g>
<g id="p9-nad3"><rect class="bx" x="455" y="-18" width="60" height="39"/><text class="gs" x="485" y="9">nad3</text></g>
<g id="p9-A"><rect class="bx" x="515" y="-18" width="20" height="39"/><text class="t" x="525" y="7">A</text></g>
<g id="p9-R"><rect class="bx" x="535" y="-18" width="20" height="39"/><text class="t" x="545" y="7">R</text></g>
<g id="p9-N"><rect class="bx" x="555" y="-18" width="22" height="39"/><text class="t" x="566" y="7">N</text></g>
<g id="p9-S1"><rect class="bx" x="577" y="-18" width="21" height="39"/><text class="ts" x="587.5" y="5">S1</text></g>
<g id="p9-E"><rect class="bx" x="598" y="-18" width="20" height="39"/><text class="t" x="608" y="7">E</text></g>
<g id="p9-nad6"><rect class="bx tl" x="618" y="-18" width="65" height="39"/><text class="g" x="650.5" y="11">nad6</text></g>
<g id="p9-cob"><rect class="bx tl" x="683" y="-18" width="47" height="39"/><text class="g" x="706.5" y="11">cob</text></g>
<g id="p9-S2"><rect class="bx tl" x="730" y="-18" width="22" height="39"/><text class="ts" x="741" y="5">S2</text></g>
<g id="p9-T"><rect class="bx" x="1030" y="-18" width="20" height="76"/><text class="t" x="1040" y="7">T</text></g>
<g id="p9-I"><rect class="bx" x="1348" y="-18" width="20" height="39"/><text class="t" x="1358" y="7">I</text></g>
<g id="p9-M"><rect class="bx" x="1368" y="-18" width="22" height="39"/><text class="t" x="1379" y="7">M</text></g>
<g id="p9-nad2"><rect class="bx" x="1390" y="-18" width="57" height="39"/><text class="gs" x="1418.5" y="9">nad2</text></g>
<g id="p9-Q"><rect class="bx tl" x="795" y="21" width="20" height="38"/><text class="t" x="805" y="46">Q</text></g>
<g id="p9-Y"><rect class="bx tl" x="815" y="21" width="20" height="38"/><text class="t" x="825" y="46">Y</text></g>
<g id="p9-F"><rect class="bx" x="835" y="21" width="22" height="38"/><text class="t" x="846" y="46">F</text></g>
<g id="p9-nad5"><rect class="bx" x="857" y="21" width="68" height="38"/><text class="g" x="891" y="49">nad5</text></g>
<g id="p9-H"><rect class="bx" x="925" y="21" width="22" height="38"/><text class="t" x="936" y="46">H</text></g>
<g id="p9-nad4"><rect class="bx" x="947" y="21" width="66" height="38"/><text class="g" x="980" y="49">nad4</text></g>
<g id="p9-nad4l"><rect class="bx" x="1013" y="21" width="17" height="38"/><text class="rs" transform="translate(1021.5,40) rotate(-90)" y="5">nad4l</text></g>
<g id="p9-P"><rect class="bx" x="1050" y="21" width="23" height="38"/><text class="t" x="1061.5" y="46">P</text></g>
<g id="p9-nad1"><rect class="bx" x="1073" y="21" width="67" height="38"/><text class="g" x="1106.5" y="49">nad1</text></g>
<g id="p9-L1"><rect class="bx" x="1140" y="21" width="23" height="38"/><text class="ts" x="1151.5" y="45">L1</text></g>
<g id="p9-L2"><rect class="bx" x="1163" y="21" width="25" height="38"/><text class="ts" x="1175.5" y="45">L2</text></g>
<g id="p9-rrnL"><rect class="bx" x="1188" y="21" width="49" height="38"/><text class="gs" x="1212.5" y="48">rrnL</text></g>
<g id="p9-V"><rect class="bx" x="1237" y="21" width="21" height="38"/><text class="t" x="1247.5" y="46">V</text></g>
<g id="p9-rrnS"><rect class="bx" x="1258" y="21" width="62" height="38"/><text class="g" x="1289" y="49">rrnS</text></g>
<g id="p9-C"><rect class="bx" x="1447" y="21" width="25" height="37"/><text class="t" x="1459.5" y="46">C</text></g>
<g id="p9-W"><rect class="bx" x="1472" y="21" width="28" height="37"/><text class="t" x="1486" y="46">W</text></g>
</g>
<text class="cr" x="816" y="-13">CR</text>
<text class="cr" transform="translate(484,52) rotate(-90)" y="5">NCR</text>
</g>
</svg>
